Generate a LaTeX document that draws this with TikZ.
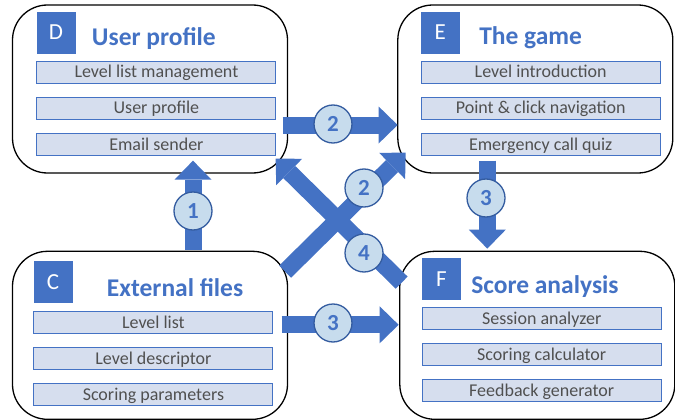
\documentclass[tikz,border=0pt]{standalone}
\usepackage{fontspec}
\setmainfont{Carlito}
\usetikzlibrary{positioning,arrows.meta}
\definecolor{mainblue}{RGB}{68,114,196}
\definecolor{itemfill}{RGB}{214,222,238}
\definecolor{badgefill}{RGB}{199,220,237}
\definecolor{badgeline}{RGB}{52,92,160}
\definecolor{itemtext}{RGB}{80,80,80}
\tikzset{module/.style={draw=black,line width=1.3pt,rounded corners=35pt,minimum width=275pt,minimum height=168pt,inner sep=0pt},
    tag/.style={fill=mainblue,text=white,minimum width=39pt,minimum height=42pt,inner sep=0pt,font=\fontsize{23}{25}\selectfont},
    title/.style={text=mainblue,inner sep=0pt,anchor=base west,font=\bfseries\fontsize{25.5}{28}\selectfont},
    item/.style={draw=mainblue,fill=itemfill,line width=1.1pt,text=itemtext,minimum width=239pt,minimum height=22pt,inner sep=0pt,text height=13pt,text depth=2pt,font=\fontsize{18}{20}\selectfont},
    badge/.style={circle,draw=badgeline,fill=badgefill,line width=1.3pt,minimum size=38pt,inner sep=0pt,text=mainblue,font=\bfseries\fontsize{23}{25}\selectfont},
    flow/.style={mainblue,line width=17pt,-{Triangle[length=19pt,width=37pt,line width=0pt]}},}
\newcommand{\fa}[2]{\path[draw, flow] #1 -- #2;}

\begin{document}
\begin{tikzpicture}[x=1pt,y=-1pt]
        \useasboundingbox (0,0) rectangle (675,420);
        \node[module] (D) at (150,89) {};
        \node[module] (E) [right=109pt of D] {};
        \node[module] (C) [below=77pt of D] {};
        \node[module] (F) [right=111pt of C] {};

        % user profile
        \node[tag] (Dtag) [below right=7pt and 24.5pt of D.north west] {D};
        \node[title] (Dtitle) at ([shift={(16,-8)}]Dtag.south east) {User profile};
        \node[item] (D1) [below right=7pt and 0pt of Dtag.south west] {Level list management};
        \node[item] (D2) [below=13pt of D1] {User profile};
        \node[item] (D3) [below=13pt of D2] {Email sender};

        % the game
        \node[tag] (Etag) [below right=7pt and 23.5pt of E.north west] {E};
        \node[title] (Etitle) at ([shift={(19,-9)}]Etag.south east) {The game};
        \node[item] (E1) [below right=7pt and 0pt of Etag.south west] {Level introduction};
        \node[item] (E2) [below=13pt of E1] {Point \& click navigation};
        \node[item] (E3) [below=13pt of E2] {Emergency call quiz};

        % external files
        \node[tag] (Ctag) [below right=10pt and 21.5pt of C.north west] {C};
        \node[title] (Ctitle) at ([shift={(34,-7)}]Ctag.south east) {External files};
        \node[item] (C1) [below right=8pt and 0pt of Ctag.south west] {Level list};
        \node[item] (C2) [below=13pt of C1] {Level descriptor};
        \node[item] (C3) [below=13pt of C2] {Scoring parameters};

        % score analysis
        \node[tag] (Ftag) [below right=7pt and 22.5pt of F.north west] {F};
        \node[title] (Ftitle) at ([shift={(10,-7)}]Ftag.south east) {Score analysis};
        \node[item] (F1) [below right=7pt and 0pt of Ftag.south west] {Session analyzer};
        \node[item] (F2) [below=13pt of F1] {Scoring calculator};
        \node[item] (F3) [below=13pt of F2] {Feedback generator};

        \fa{([shift={(43,-1)}]C.north)}{([shift={(43,-13)}]D.south)}
        \fa{([shift={(-5.5,36)}]D.east)}{([shift={(0.5,36)}]E.west)}
        \fa{([shift={(-3,21)}]C.north east)}{([shift={(8.5,-21)}]E.south west)}
        \fa{([shift={(2.5,32)}]F.north west)}{([shift={(-12.5,-15)}]D.south east)}
        \fa{([shift={(-48,-13)}]E.south)}{([shift={(-50,-2)}]F.north)}
        \fa{([shift={(-6.5,-10.5)}]C.east)}{([shift={(-0.5,-10.5)}]F.west)}

        \node[badge] (n1) at (193,211) {1};
        \node[badge] (n2) at (333,124) {2};
        \node[badge] (n2d) at (364,188) {2};
        \node[badge] (n4) at (364,253) {4};
        \node[badge] (n3) at (486,198) {3};
        \node[badge] (n3h) at (333,323) {3};
    \end{tikzpicture}
\end{document}
